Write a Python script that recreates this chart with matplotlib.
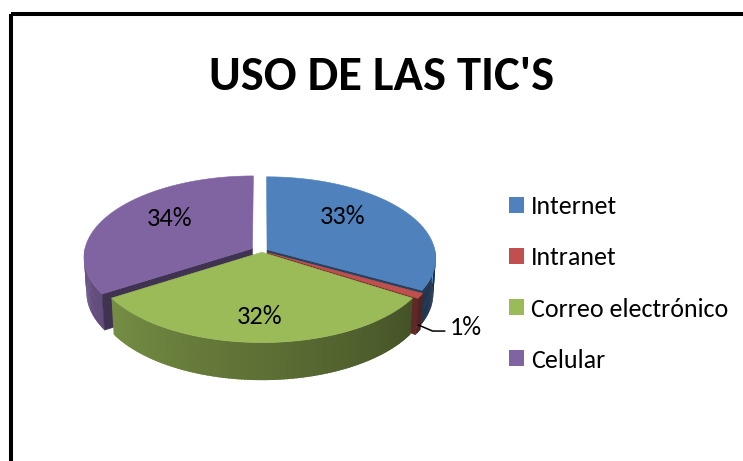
import matplotlib
matplotlib.use('agg')
import matplotlib.pyplot as plt
from matplotlib.patches import Polygon, Rectangle, Patch
import numpy as np

# data
categories = ['Internet', 'Intranet', 'Correo electrónico', 'Celular']
values = [33, 1, 32, 34]
pct_labels = ['33%', '1%', '32%', '34%']
colors = ['#4F81BD', '#C0504D', '#9BBB59', '#8064A2']

# layout / style
explode = [0.035, 0.035, 0.015, 0.065]
W, H = 743, 461
cx, cy = 262, 251          # apex of the pie on screen
K = 168.0                  # px per radius at mid depth
d0 = 8.4                   # camera distance (radius units)
phi = np.arcsin(0.48)      # elevation
depth = 0.24               # pie thickness (radius units)
label_pos = {'33%': (343, 216), '34%': (170, 218), '32%': (260, 316)}
fam = ['Carlito', 'Lato', 'DejaVu Sans']

plt.rcParams['font.family'] = fam


def proj(x, y, z):
    d = y * np.cos(phi) - z * np.sin(phi)
    s = K * d0 / (d0 + d)
    return cx + x * s, cy - (y * np.sin(phi) + z * np.cos(phi)) * s


def shade(c, f):
    rgb = np.array(matplotlib.colors.to_rgb(c))
    return tuple(np.clip(rgb * f, 0, 1))


fig = plt.figure(figsize=(W / 100, H / 100), dpi=100)
ax = fig.add_axes([0, 0, 1, 1])
ax.set_xlim(0, W)
ax.set_ylim(H, 0)
ax.axis('off')

fracs = np.array(values, dtype=float) / sum(values)
ends = 90 - 360 * np.cumsum(fracs)
starts = np.concatenate([[90], ends[:-1]])

slices = []
for i in range(len(values)):
    a1, a2 = ends[i], starts[i]       # ccw interval [a1, a2] in degrees
    mid = np.radians((a1 + a2) / 2)
    slices.append((np.sin(mid), i, a1, a2, mid))
slices.sort(key=lambda t: -t[0])      # back slices first

for _, i, a1, a2, mid in slices:
    ox, oy = explode[i] * np.cos(mid), explode[i] * np.sin(mid)
    col = colors[i]

    # outer wall (front half), shaded along the angle; strips overlap to hide seams
    ths = np.arange(a1, a2, 1.0).tolist() + [a2]
    for t0, t1 in zip(ths[:-1], ths[1:]):
        tm = np.radians((t0 + t1) / 2)
        if np.sin(tm) > 0.02:
            continue
        deg = np.degrees(tm) % 360
        f = 0.85 - (deg - 180) / 180 * 0.5
        t1e = min(t1 + 0.7, a2)
        pts = []
        for t in (t0, t1e):
            r = np.radians(t)
            pts.append(proj(np.cos(r) + ox, np.sin(r) + oy, 0))
        for t in (t1e, t0):
            r = np.radians(t)
            pts.append(proj(np.cos(r) + ox, np.sin(r) + oy, -depth))
        c = shade(col, f)
        ax.add_patch(Polygon(pts, closed=True, facecolor=c, edgecolor='none', lw=0))

    # radial cut faces that look toward the viewer
    for t, vis in ((a1, np.cos(np.radians(a1)) > 0.01),
                   (a2, np.cos(np.radians(a2)) < -0.01)):
        if not vis:
            continue
        r = np.radians(t)
        pts = [proj(ox, oy, 0), proj(np.cos(r) + ox, np.sin(r) + oy, 0),
               proj(np.cos(r) + ox, np.sin(r) + oy, -depth), proj(ox, oy, -depth)]
        c = shade(col, 0.5)
        ax.add_patch(Polygon(pts, closed=True, facecolor=c, edgecolor=c, lw=0.4))

    # top face
    ths = np.linspace(np.radians(a1), np.radians(a2), 120)
    pts = [proj(ox, oy, 0)] + [proj(np.cos(t) + ox, np.sin(t) + oy, 0) for t in ths]
    ax.add_patch(Polygon(pts, closed=True, facecolor=col, edgecolor=col, lw=0.4))

# data labels
for lab in pct_labels:
    if lab in label_pos:
        x, y = label_pos[lab]
        ax.text(x, y, lab, ha='center', va='center', fontsize=19, color='black')

# small slice label with leader line
i_small = int(np.argmin(values))
mid = np.radians((starts[i_small] + ends[i_small]) / 2)
ox, oy = explode[i_small] * np.cos(mid), explode[i_small] * np.sin(mid)
sx, sy = proj(np.cos(mid) + ox, np.sin(mid) + oy, -depth * 0.8)
ax.plot([sx, sx + 14, sx + 26], [sy, sy + 6, sy + 6], color='black', lw=1.1)
ax.text(sx + 31, sy + 2, pct_labels[i_small], ha='left', va='center', fontsize=19)

# legend
handles = [Patch(facecolor=c, edgecolor='none') for c in colors]
ax.legend(handles, categories, loc='center left', bbox_to_anchor=(509, 283.5),
          bbox_transform=ax.transData, frameon=False, fontsize=18.7,
          handlelength=0.58, handleheight=0.58, handletextpad=0.27,
          labelspacing=1.08, borderpad=0, borderaxespad=0)

# title
ax.text(382, 90, "USO DE LAS TIC'S", ha='center', va='baseline',
        fontsize=35, fontweight='bold')

# chart frame
ax.add_patch(Rectangle((11.3, 14), 760, 470, fill=False, edgecolor='black',
                       lw=2.9, clip_on=False))

fig.savefig('out.png', dpi=100)
